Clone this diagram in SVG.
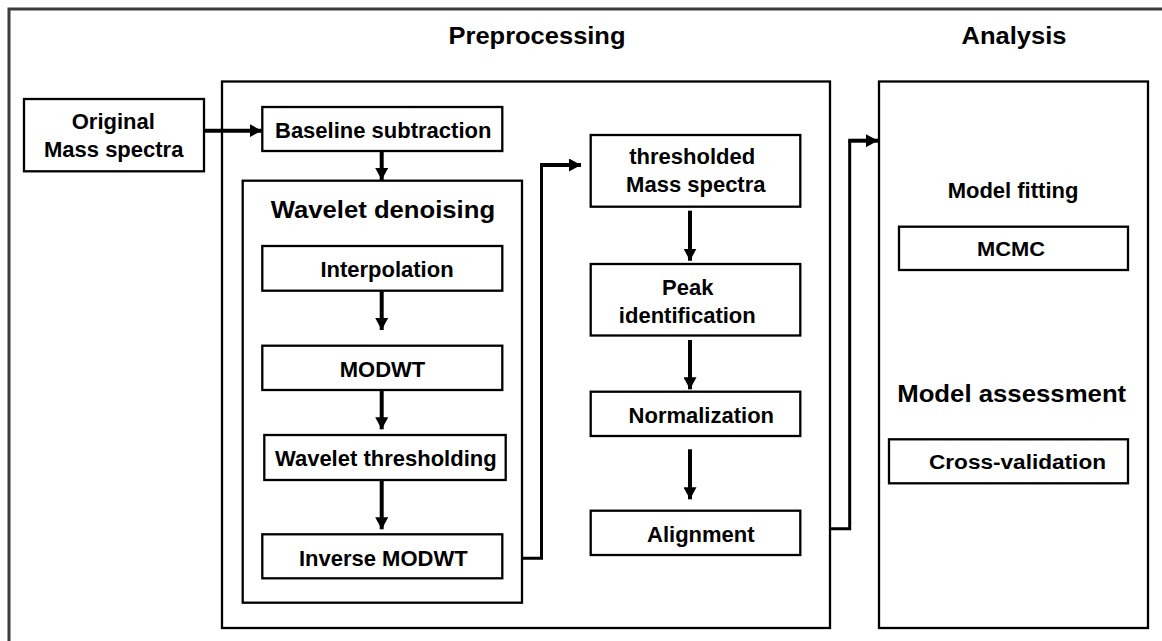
<svg xmlns="http://www.w3.org/2000/svg" width="1162" height="641" viewBox="0 0 1162 641">
<style>
  .box { fill: #ffffff; stroke: #000000; stroke-width: 2.3; }
  .frame { fill: none; stroke: #3c3c3c; stroke-width: 3; }
  .t { font-family: "Liberation Sans", Arial, sans-serif; font-weight: bold; fill: #000000; text-anchor: middle; }
  .s22 { font-size: 22px; }
  .s24 { font-size: 24px; }
  .s20 { font-size: 20px; }
  .arrow { fill: none; stroke: #000000; stroke-width: 4; marker-end: url(#ah); }
  .elbow { fill: none; stroke: #000000; stroke-width: 3; }
</style>
<defs>
  <marker id="ah" markerUnits="userSpaceOnUse" markerWidth="12" markerHeight="13" refX="12" refY="6.5" orient="auto">
    <path d="M0,0 L12,6.5 L0,13 z" fill="#000000"/>
  </marker>
</defs>
<rect width="1162" height="641" fill="#ffffff"/>
<rect class="frame" x="9" y="9" width="1200" height="700"/>

<g id="preprocessing">
  <rect class="box" x="222" y="81.5" width="608" height="546.5"/>
  <text class="t s24" x="537" y="44" textLength="177" lengthAdjust="spacingAndGlyphs">Preprocessing</text>
</g>
<g id="analysis">
  <rect class="box" x="879" y="81.5" width="269" height="546.5"/>
  <text class="t s24" x="1014" y="44" textLength="105" lengthAdjust="spacingAndGlyphs">Analysis</text>
</g>
<g id="original">
  <rect class="box" x="24" y="99" width="180" height="72.3"/>
  <text class="t s22" x="113.3" y="129.3">Original</text>
  <text class="t s22" x="113.7" y="156.7">Mass spectra</text>
</g>
<g id="baseline">
  <rect class="box" x="262.3" y="107" width="240" height="44"/>
  <text class="t s22" x="383.2" y="137.7">Baseline subtraction</text>
</g>
<g id="wavelet-denoising">
  <rect class="box" x="242.7" y="180.7" width="279.3" height="422"/>
  <text class="t s24" x="382.9" y="218.3" textLength="224.3" lengthAdjust="spacingAndGlyphs">Wavelet denoising</text>
</g>
<g id="interpolation">
  <rect class="box" x="262.3" y="246" width="240" height="44.7"/>
  <text class="t s22" x="387" y="276.7">Interpolation</text>
</g>
<g id="modwt">
  <rect class="box" x="262.3" y="345.7" width="240" height="44.3"/>
  <text class="t s22" x="382.5" y="376.7">MODWT</text>
</g>
<g id="wavelet-thresholding">
  <rect class="box" x="264.3" y="435" width="241.4" height="45"/>
  <text class="t s22" x="385.8" y="465.7">Wavelet thresholding</text>
</g>
<g id="inverse-modwt">
  <rect class="box" x="262.3" y="534.3" width="240" height="44"/>
  <text class="t s22" x="383.3" y="565.7">Inverse MODWT</text>
</g>
<g id="thresholded">
  <rect class="box" x="590.7" y="135" width="209.6" height="71.7"/>
  <text class="t s22" x="692.2" y="164">thresholded</text>
  <text class="t s22" x="695.8" y="192.3">Mass spectra</text>
</g>
<g id="peak">
  <rect class="box" x="590.7" y="264" width="209.6" height="71.5"/>
  <text class="t s22" x="687.7" y="295">Peak</text>
  <text class="t s22" x="687.3" y="323.3">identification</text>
</g>
<g id="normalization">
  <rect class="box" x="590.7" y="391.7" width="209.6" height="44.3"/>
  <text class="t s22" x="701.3" y="423.3">Normalization</text>
</g>
<g id="alignment">
  <rect class="box" x="590.7" y="510.7" width="209.6" height="44.3"/>
  <text class="t s22" x="700.8" y="541.7">Alignment</text>
</g>
<g id="model-fitting">
  <text class="t s22" x="1013" y="197.7">Model fitting</text>
</g>
<g id="mcmc">
  <rect class="box" x="899" y="226.7" width="229" height="43.3"/>
  <text class="t s20" x="1011" y="256" textLength="68" lengthAdjust="spacingAndGlyphs">MCMC</text>
</g>
<g id="model-assessment">
  <text class="t s24" x="1011.7" y="401.7" textLength="229" lengthAdjust="spacingAndGlyphs">Model assessment</text>
</g>
<g id="cross-validation">
  <rect class="box" x="889" y="439.3" width="239" height="44"/>
  <text class="t s20" x="1017.5" y="469.3" textLength="177" lengthAdjust="spacingAndGlyphs">Cross-validation</text>
</g>

<g id="connectors">
  <path class="arrow" d="M204,130.7 H261.7"/>
  <path class="arrow" d="M381.7,151 V180"/>
  <path class="arrow" d="M381.7,290.7 V330"/>
  <path class="arrow" d="M381.7,390 V429.3"/>
  <path class="arrow" d="M381.7,480 V529.3"/>
  <path class="elbow" d="M522,558.3 H541.5 V165"/>
  <path class="arrow" d="M540,165 H581"/>
  <path class="arrow" d="M690,210.7 V260.7"/>
  <path class="arrow" d="M690,340 V389.3"/>
  <path class="arrow" d="M690,449.3 V499.3"/>
  <path class="elbow" d="M830,528.7 H849.7 V140.7"/>
  <path class="arrow" d="M848.2,140.7 H878"/>
</g>
</svg>
